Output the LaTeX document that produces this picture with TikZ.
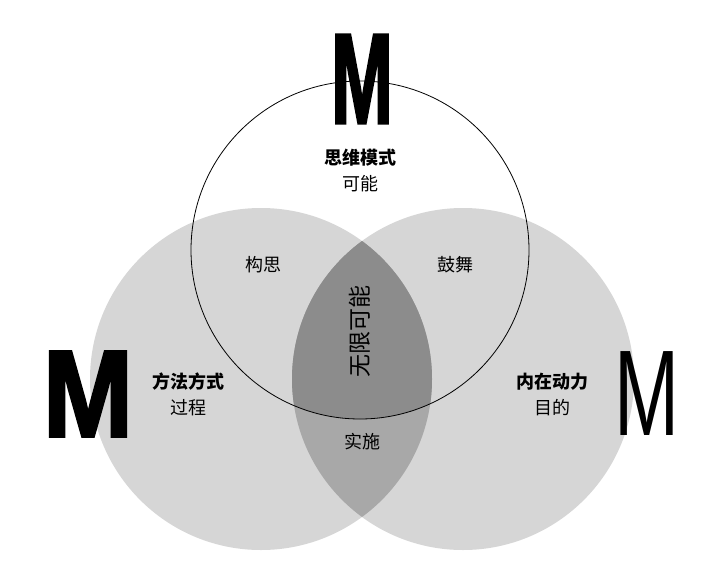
\documentclass[tikz,border=0pt]{standalone}
\usepackage{fontspec}
\setmainfont{Liberation Sans}
\newfontfamily\heavyfont[FakeBold=2.5]{Liberation Sans Bold}
\newfontfamily\cjk{Noto Sans CJK SC}
\begin{document}
\begin{tikzpicture}[x=1pt,y=-1pt,
  lbl/.style={font=\cjk\fontsize{18}{20}\selectfont, inner sep=0pt},
  blbl/.style={font=\cjk\bfseries\fontsize{18}{20}\selectfont, inner sep=0pt},
  bigm/.style={inner sep=0pt, anchor=center}]
\useasboundingbox[fill=white] (0,0) rectangle (720,568);
\def\L{(261,379) circle (171)}
\def\R{(463,379) circle (171)}
\def\T{(360,250) circle (169)}
\fill[gray!32!white] \L;
\fill[gray!32!white] \R;
\begin{scope}\clip \L; \fill[black!34] \R; \end{scope}
\begin{scope}\clip \L; \clip \R; \fill[black!45] \T; \end{scope}
\draw[black, line width=0.8pt] \T;
\node[bigm] (mt) at (362,79) {\scalebox{0.58}[1]{\heavyfont\fontsize{128}{128}\selectfont M}};
\node[bigm] (ml) at (88,394) {\scalebox{0.88}[1]{\heavyfont\fontsize{123}{123}\selectfont M}};
\node[bigm] (mr) at (647,394) {\scalebox{0.64}[1]{\fontsize{122}{122}\selectfont M}};
\node[blbl] (t1) at (360,158) {思维模式};
\node[lbl] (t2) at (360,184) {可能};
\node[lbl] (a1) at (263,265) {构思};
\node[lbl] (a2) at (455,265) {鼓舞};
\node[lbl, rotate=90, font=\cjk\fontsize{23}{24}\selectfont] (c) at (360,331) {无限可能};
\node[blbl] (l1) at (188,382) {方法方式};
\node[lbl] (l2) at (188,408) {过程};
\node[blbl] (r1) at (552,382) {内在动力};
\node[lbl] (r2) at (552,408) {目的};
\node[lbl] (b) at (362,442) {实施};
\end{tikzpicture}
\end{document}
